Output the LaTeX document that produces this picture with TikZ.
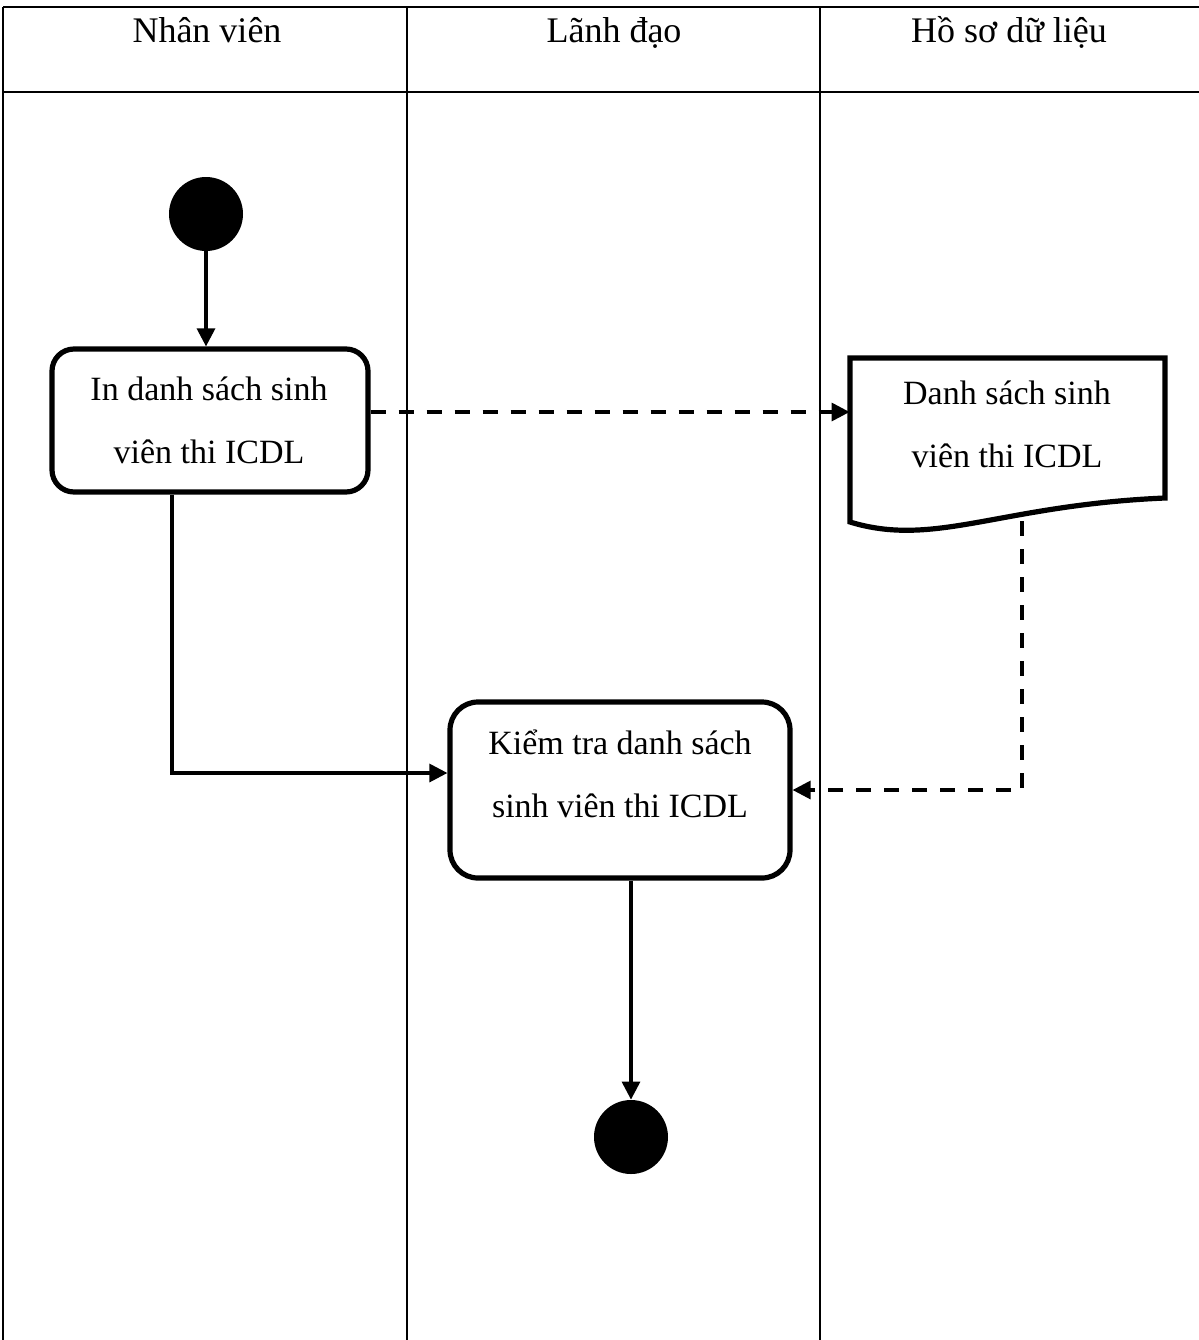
\documentclass[tikz,border=0pt]{standalone}
\usepackage{fontspec}
\setmainfont{Liberation Serif}
\usetikzlibrary{arrows.meta}
\begin{document}
\begin{tikzpicture}[x=0.5pt,y=-0.5pt,
 lane/.style={line width=0.6pt},
 frame/.style={line width=1pt},
 act/.style={draw,line width=2.6pt,rounded corners=11pt,inner sep=0pt},
 lbl/.style={font=\fontsize{17}{31.5}\selectfont,align=center,anchor=base,inner sep=0pt},
 head/.style={font=\fontsize{18}{22}\selectfont,anchor=base,inner sep=0pt},
 flow/.style={line width=1.6pt,-{Triangle[length=9pt,width=9pt]}},
 dflow/.style={flow,dash pattern=on 7.5pt off 6.5pt},
 dot/.style={circle,fill=black,minimum size=37pt,inner sep=0pt}]
\useasboundingbox (0,0) rectangle (1199,1340);
% swimlane frame
\draw[frame] (3,7) -- (1199,7);
\draw[frame] (3,92) -- (1199,92);
\draw[lane] (3,7) -- (3,1340);
\draw[lane] (407,7) -- (407,1340);
\draw[lane] (820,7) -- (820,1340);
\node[head] (h1) at (207,42) {Nhân viên};
\node[head] (h2) at (614,42) {Lãnh đạo};
\node[head] (h3) at (1009,42) {Hồ sơ dữ liệu};
% nodes
\node[dot] (start) at (206,214) {};
\node[act,minimum width=158pt,minimum height=71.5pt] (a1) at (210,420.5) {};
\node[lbl] (t1) at (209,463) {In danh sách sinh\\viên thi ICDL};
\node[act,rounded corners=14pt,minimum width=170pt,minimum height=88pt] (a2) at (620,790) {};
\node[lbl] (t2) at (620,817) {Kiểm tra danh sách\\sinh viên thi ICDL};
\node[inner sep=0pt,minimum width=157.5pt,minimum height=54pt] (doc) at (1007.5,412) {};
\draw[line width=2.6pt] (850,358) -- (1165,358) -- (1165,498)
  .. controls (1000,505) and (935,548) .. (850,522) -- cycle;
\node[lbl] (t3) at (1007,467) {Danh sách sinh\\viên thi ICDL};
\coordinate (docbot) at (1022,521);
\node[dot] (end) at (631,1137) {};
% connectors
\draw[flow] (start.south) -- (start.south |- a1.north);
\draw[dflow] (a1.east |- doc.west) -- (doc.west);
\draw[flow] ([xshift=-19pt]a1.south) |- ([yshift=8.5pt]a2.west);
\draw[dflow] (docbot) |- (a2.east);
\draw[flow] (end.north |- a2.south) -- (end.north);
\end{tikzpicture}
\end{document}
